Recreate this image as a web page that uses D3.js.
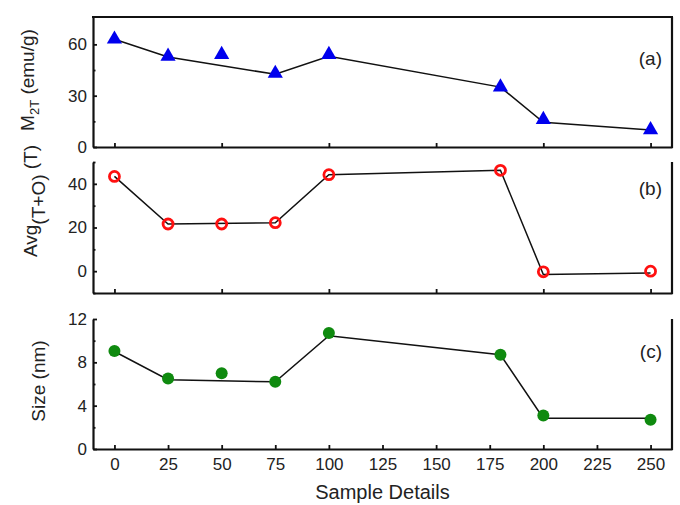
<!DOCTYPE html>
<html>
<head>
<meta charset="utf-8">
<script src="https://cdn.jsdelivr.net/npm/d3@7"></script>
<style>
	body{ margin:0; background:#fff; }
	svg{ font-family:"Liberation Sans", Arial, sans-serif; }
	.axis path, .axis line{ stroke:#111; }
	.axis path{ stroke-width:2.2; }
	.axis line{ stroke-width:1.8; }
	.axis text{ font-size:17px; fill:#222; }
</style>
</head>
<body>
<div id="chart"></div>
<script>

// sample positions
const samples = [0, 25, 50, 75, 100, 180, 200, 250];
// the guide line skips the 50 sample
const lineSamples = [0, 25, 75, 100, 180, 200, 250];

// (a) magnetisation at 2T
const m2t = [63, 53, 54, 43, 54, 35, 16, 10];
const m2tLine = [63, 52.6, 42.5, 53, 35, 14.4, 10];

// (b) average field
const avgTO = [43.4, 21.6, 21.6, 22.2, 44.2, 46.2, -0.3, 0];
const avgTOLine = [43.4, 21.6, 22.2, 44.2, 46.2, -1.5, -0.8];

// (c) particle size
const sizeNm = [9.05, 6.5, 7.0, 6.2, 10.7, 8.7, 3.1, 2.7];
const sizeLine = [9.0, 6.4, 6.2, 10.45, 8.7, 2.85, 2.85];

const xTicksTop = [0, 50, 100, 150, 200, 250];
const xTicksBottom = [0, 25, 50, 75, 100, 125, 150, 175, 200, 225, 250];

const panels = [
	{ key:'a', values:m2t, line:m2tLine, domain:[0, 76], top:17, bottom:147,
		major:[0, 30, 60], minor:[15, 45], marker:'triangle', box:true, labelY:65 },
	{ key:'b', values:avgTO, line:avgTOLine, domain:[-10, 50], top:162, bottom:293,
		major:[0, 20, 40], minor:[-10, 10, 30, 50], marker:'ring', box:false, labelY:195 },
	{ key:'c', values:sizeNm, line:sizeLine, domain:[0, 12], top:319, bottom:449,
		major:[0, 4, 8, 12], minor:[2, 6, 10], marker:'dot', box:false, labelY:358 }
];

const width = 680, height = 505;
const left = 93, right = 672;

const svg = d3.select('#chart')
	.append('svg')
	.attr('width', width)
	.attr('height', height);

const x = d3.scaleLinear().domain([-10, 260]).range([left, right]);

panels.forEach(function(p, i){

	const y = d3.scaleLinear().domain(p.domain).range([p.bottom, p.top]);
	const g = svg.append('g').attr('class', 'panel panel-' + p.key);

	// bottom axis
	const xAxis = d3.axisBottom(x)
		.tickValues(i === 2 ? xTicksBottom : xTicksTop)
		.tickSizeInner(-4)
		.tickSizeOuter(0)
		.tickPadding(9);
	if( i !== 2 ){
		xAxis.tickFormat('');
	}
	g.append('g')
		.attr('class', 'axis')
		.attr('transform', 'translate(0,' + p.bottom + ')')
		.call(xAxis);

	// left axis, major + minor
	g.append('g')
		.attr('class', 'axis')
		.attr('transform', 'translate(' + left + ',0)')
		.call(d3.axisLeft(y).tickValues(p.major).tickSizeInner(-4).tickSizeOuter(0).tickPadding(6));

	g.append('g')
		.attr('class', 'axis minor')
		.attr('transform', 'translate(' + left + ',0)')
		.call(d3.axisLeft(y).tickValues(p.minor).tickSizeInner(-2.5).tickSizeOuter(0).tickFormat(''))
		.select('.domain').remove();

	// right edge (and top on the first panel)
	g.append('line')
		.attr('x1', right).attr('x2', right)
		.attr('y1', p.top).attr('y2', p.bottom + 1)
		.attr('stroke', '#111').attr('stroke-width', 2.2);
	if( p.box ){
		g.append('line')
			.attr('x1', left - 1).attr('x2', right + 1)
			.attr('y1', p.top).attr('y2', p.top)
			.attr('stroke', '#111').attr('stroke-width', 2.2);
	}

	// guide line
	const line = d3.line()
		.x(function(d, j){ return x(lineSamples[j]); })
		.y(function(d){ return y(d); });
	g.append('path')
		.datum(p.line)
		.attr('d', line)
		.attr('fill', 'none')
		.attr('stroke', '#111')
		.attr('stroke-width', 1.5);

	// markers
	const pts = g.selectAll('.pt')
		.data(p.values)
		.join('g')
		.attr('class', 'pt')
		.attr('transform', function(d, j){ return 'translate(' + x(samples[j]) + ',' + y(d) + ')'; });

	if( p.marker === 'triangle' ){
		pts.append('path')
			.attr('d', d3.symbol().type(d3.symbolTriangle).size(100))
			.attr('fill', '#0000ee');
	} else if( p.marker === 'ring' ){
		pts.append('circle')
			.attr('r', 5)
			.attr('fill', 'none')
			.attr('stroke', '#ff1010')
			.attr('stroke-width', 2.8);
	} else {
		pts.append('circle')
			.attr('r', 6)
			.attr('fill', '#0f8a0f');
	}

	// panel label
	g.append('text')
		.attr('x', 662)
		.attr('y', p.labelY)
		.attr('text-anchor', 'end')
		.attr('font-size', '19px')
		.attr('fill', '#222')
		.text('(' + p.key + ')');
});

// y titles
function yTitle(cx, cy, parts){
	const t = svg.append('text')
		.attr('transform', 'translate(' + cx + ',' + cy + ') rotate(-90)')
		.attr('text-anchor', 'middle')
		.attr('font-size', '19px')
		.attr('fill', '#222');
	parts.forEach(function(pt){
		t.append('tspan')
			.attr('dy', pt.dy || 0)
			.attr('font-size', pt.size || null)
			.text(pt.text);
	});
}

yTitle(34, 80, [
	{ text:'M' },
	{ text:'2T', dy:5, size:'13px' },
	{ text:'\u00a0(emu/g)', dy:-5 }
]);

yTitle(37, 201, [
	{ text:'Avg' },
	{ text:'(T+O)', dy:8 },
	{ text:'\u00a0(T)', dy:-8 }
]);

yTitle(45, 381, [
	{ text:'Size (nm)' }
]);

// x title
svg.append('text')
	.attr('x', (left + right) / 2)
	.attr('y', 499)
	.attr('text-anchor', 'middle')
	.attr('font-size', '20px')
	.attr('fill', '#222')
	.text('Sample Details');

</script>
</body>
</html>
